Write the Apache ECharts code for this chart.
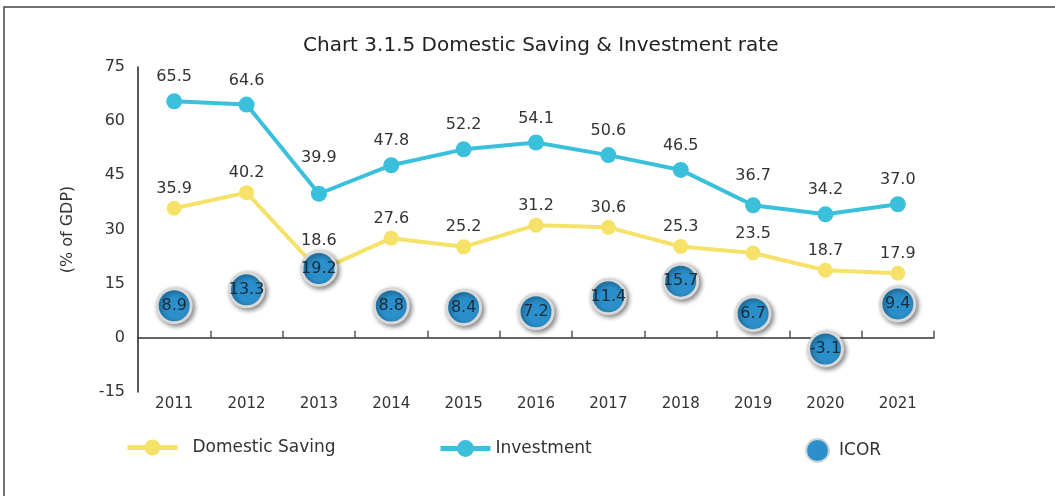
<!DOCTYPE html>
<html>
<head>
<meta charset="utf-8">
<script src="https://cdn.jsdelivr.net/npm/echarts@6/dist/echarts.min.js"></script>
<style>html,body{margin:0;padding:0;background:#fff}#c{width:1055px;height:496px}</style>
</head>
<body>
<div id="c"></div>
<script>
const years = ['2011','2012','2013','2014','2015','2016','2017','2018','2019','2020','2021'];
const domesticSaving = [35.9, 40.2, 18.6, 27.6, 25.2, 31.2, 30.6, 25.3, 23.5, 18.7, 17.9];
const investment = [65.5, 64.6, 39.9, 47.8, 52.2, 54.1, 50.6, 46.5, 36.7, 34.2, 37.0];
const icor = [8.9, 13.3, 19.2, 8.8, 8.4, 7.2, 11.4, 15.7, 6.7, -3.1, 9.4];
const yTicks = {min: -15, max: 75, interval: 15};

// extra lift (px) for a few value labels, as placed in the original
const savingLabelLift = {2: 10};
const investmentLabelLift = {2: 12, 8: 5};

function withLift(values, lift) {
  return values.map((v, i) => lift[i] ? {value: v, label: {offset: [0, -lift[i]]}} : v);
}

const FONT = '"DejaVu Sans", "Open Sans", sans-serif';
const chart = echarts.init(document.getElementById('c'));
chart.setOption({
  animation: false,
  backgroundColor: '#fff',
  textStyle: {fontFamily: FONT},
  title: {
    text: 'Chart 3.1.5 Domestic Saving & Investment rate',
    left: 298, top: 31,
    textStyle: {fontSize: 20, fontWeight: 'normal', color: '#222', fontFamily: FONT}
  },
  graphic: [{
    type: 'rect', z: -1, silent: true,
    shape: {x: 4, y: 7, width: 1200, height: 700},
    style: {fill: 'none', stroke: '#444', lineWidth: 1.5}
  }],
  legend: [
    {data: ['Domestic Saving'], left: 125, top: 439, padding: 0, itemWidth: 50, itemHeight: 20,
     lineStyle: {width: 5},
     textStyle: {fontSize: 17, color: '#333', fontFamily: FONT, padding: [0, 0, 0, 10]}},
    {data: ['Investment'], left: 438, top: 440, padding: 0, itemWidth: 50, itemHeight: 21,
     lineStyle: {width: 5},
     textStyle: {fontSize: 17, color: '#333', fontFamily: FONT, padding: [0, 0, 0, 0]}},
    {data: ['ICOR'], left: 805, top: 438, padding: 0, itemWidth: 23, itemHeight: 23,
     itemStyle: {color: '#2a8fca', borderColor: '#d4d4d4', borderWidth: 2, opacity: 1},
     textStyle: {fontSize: 17, color: '#333', fontFamily: FONT, padding: [0, 0, 0, 5]}}
  ],
  grid: {left: 138, right: 121, top: 67, bottom: 104},
  xAxis: [
    {type: 'category', data: years, position: 'bottom',
     axisLine: {show: false, onZero: false}, axisTick: {show: false},
     axisLabel: {fontSize: 15, color: '#333', margin: 5}},
    {type: 'category', data: years, position: 'top',
     axisLine: {show: true, onZero: true, lineStyle: {color: '#333', width: 1.5}},
     axisTick: {show: true, inside: false, length: 7, lineStyle: {color: '#555', width: 1.5}},
     axisLabel: {show: false}}
  ],
  yAxis: {
    type: 'value', min: yTicks.min, max: yTicks.max, interval: yTicks.interval,
    name: '(% of GDP)', nameLocation: 'middle', nameGap: 62, nameRotate: 90,
    nameMoveOverlap: false,
    nameTextStyle: {fontSize: 16, color: '#333'},
    axisLine: {show: true, lineStyle: {color: '#222', width: 1.5}},
    axisTick: {show: false}, splitLine: {show: false},
    axisLabel: {fontSize: 16, color: '#333', margin: 13}
  },
  series: [
    {name: 'Domestic Saving', type: 'line', data: withLift(domesticSaving, savingLabelLift),
     symbol: 'circle', symbolSize: 15, z: 3,
     itemStyle: {color: '#f6e268'}, lineStyle: {width: 4, color: '#f6e268'},
     label: {show: true, position: 'top', distance: 4, fontSize: 16, color: '#333',
             formatter: p => Number(p.value).toFixed(1)}},
    {name: 'Investment', type: 'line', data: withLift(investment, investmentLabelLift),
     symbol: 'circle', symbolSize: 16, z: 3,
     itemStyle: {color: '#3bc0dc'}, lineStyle: {width: 4, color: '#3bc0dc'},
     label: {show: true, position: 'top', distance: 8, fontSize: 16, color: '#333',
             formatter: p => Number(p.value).toFixed(1)}},
    {name: 'ICOR', type: 'scatter', data: icor, symbol: 'circle', symbolSize: 34, z: 5,
     itemStyle: {color: '#2a8fca', opacity: 1, borderColor: '#d8d8d8', borderWidth: 3,
                 shadowBlur: 5, shadowColor: 'rgba(0,0,0,0.45)', shadowOffsetX: 2, shadowOffsetY: 2},
     label: {show: true, position: 'inside', fontSize: 16, color: '#1d2b38',
             formatter: p => Number(p.value).toFixed(1)}}
  ]
});
</script>
</body>
</html>
